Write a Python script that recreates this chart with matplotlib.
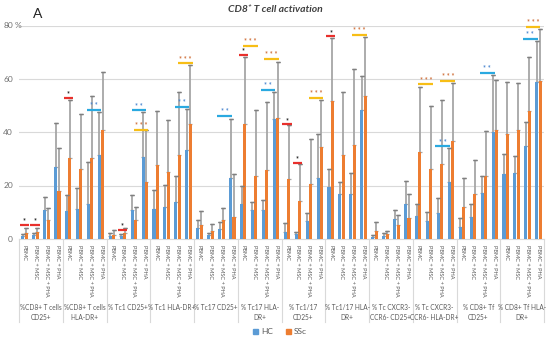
import matplotlib
matplotlib.use("Agg")
import matplotlib.pyplot as plt
import numpy as np
from matplotlib.patches import Patch

plt.rcParams['font.family'] = ['Lato', 'DejaVu Sans']

conditions = ["PBMC", "PBMC + MSC", "PBMC + MSC + PHA", "PBMC + PHA"]
groups = ["%CD8+ T cells\nCD25+", "%CD8+ T cells\nHLA-DR+", "% Tc1 CD25+", "% Tc1 HLA-DR+",
          "% Tc17 CD25+", "% Tc17 HLA-\nDR+", "% Tc1/17\nCD25+", "% Tc1/17 HLA-\nDR+",
          "% Tc CXCR3-\nCCR6- CD25+", "% Tc CXCR3-\nCCR6- HLA-DR+", "% CD8+ Tf\nCD25+",
          "% CD8+ Tf HLA-\nDR+"]

hc = [1.0, 1.4, 10.7, 27.0, 10.6, 11.3, 13.3, 31.4, 1.0, 1.1, 10.8, 30.8,
      11.2, 12.0, 14.0, 33.3, 4.2, 1.5, 3.7, 22.7, 13.1, 10.8, 10.8, 44.9,
      2.7, 1.7, 6.7, 23.0, 19.6, 16.8, 16.8, 48.2, 0.9, 1.2, 7.6, 13.1,
      8.6, 6.7, 9.8, 21.4, 4.5, 8.1, 17.1, 40.1, 24.2, 24.8, 34.9, 59.0]
hc_top = [2.0, 2.4, 15.6, 43.5, 16.4, 19.2, 29.0, 47.6, 2.2, 2.0, 16.4, 47.6,
          18.3, 20.2, 23.7, 48.9, 7.1, 2.4, 6.2, 45.1, 19.8, 14.0, 14.8, 55.3,
          5.9, 2.5, 9.7, 39.5, 26.4, 21.4, 24.8, 61.3, 1.5, 2.1, 10.7, 21.7,
          13.3, 10.2, 15.5, 34.1, 7.9, 13.1, 23.6, 61.6, 31.8, 31.0, 43.9, 74.4]
ssc = [2.3, 2.7, 7.1, 18.0, 30.5, 26.2, 30.5, 40.8, 1.6, 2.3, 7.1, 21.4,
       27.7, 25.2, 31.4, 43.0, 5.1, 3.0, 7.1, 8.1, 43.0, 23.7, 25.8, 45.5,
       22.4, 14.2, 20.6, 34.5, 51.6, 31.4, 35.4, 53.6, 3.1, 1.9, 5.2, 7.7,
       32.6, 26.4, 28.0, 36.6, 11.9, 16.8, 23.6, 40.7, 39.5, 40.7, 47.9, 59.4]
ssc_top = [4.0, 4.0, 11.6, 34.0, 52.0, 47.0, 53.8, 62.5, 3.2, 4.0, 12.0, 40.7,
           47.9, 44.7, 55.0, 65.3, 10.5, 5.6, 11.8, 24.3, 68.4, 48.2, 51.3, 66.5,
           42.6, 28.3, 37.6, 52.3, 75.5, 55.3, 63.8, 75.9, 6.5, 3.0, 9.1, 16.7,
           57.0, 49.7, 52.2, 58.6, 22.7, 29.5, 40.4, 59.8, 59.0, 58.6, 68.2, 78.8]

# significance markers: position (category units), height, kind
sig_x = [0.0, 0.96, 4.0, 6.35, 8.96, 10.47, 10.65, 14.4, 14.7, 18.3, 20.0, 20.66,
         22.26, 22.6, 24.0, 24.95, 26.65, 28.0, 30.6, 36.7, 38.25, 38.7, 42.3, 46.25, 46.5]
sig_y = [5.2, 5.2, 52.8, 48.5, 3.5, 48.2, 41.0, 49.5, 65.9, 46.1, 69.0, 72.5,
         56.0, 67.5, 43.0, 28.5, 53.0, 76.0, 76.6, 58.0, 34.8, 59.4, 62.3, 75.0, 79.6]
sig_kind = ["r", "r", "r", "b", "r", "b", "g", "b", "g", "b", "r", "g",
            "b", "g", "r", "r", "g", "r", "g", "g", "b", "g", "b", "b", "g"]

yticks = [0, 20, 40, 60, 80]
ytick_labels = ["0", "20", "40", "60", "80"]

BLUE = "#5B9BD5"
ORANGE = "#ED7D31"
sig_style = {"r": ("#E8302C", "*", "#222222", 0.85),
             "b": ("#2AA9E0", "* *", "#4A86D0", 1.35),
             "g": ("#F7BE16", "* * *", "#D0703A", 1.35)}

fig = plt.figure(figsize=(5.5, 3.41), dpi=100)
ax = fig.add_axes([19/550, 1-239/341, 525/550, (239-25.7)/341])

n = len(hc)
x = np.arange(n)
w = 0.28
off = 0.155
hc_a = np.array(hc); ssc_a = np.array(ssc)
hc_err = np.array(hc_top) - hc_a
ssc_err = np.array(ssc_top) - ssc_a

for vals, err, dx, col in [(hc_a, hc_err, -off, BLUE), (ssc_a, ssc_err, off, ORANGE)]:
    ax.bar(x + dx, vals, width=w, color=col, zorder=3)
    ax.errorbar(x + dx, vals, yerr=[np.zeros(n), err], fmt="none", ecolor="#A6A6A6",
                elinewidth=1.3, capsize=1.6, capthick=0.9, zorder=2, clip_on=False)
    ax.errorbar(x + dx, vals + err, yerr=0, fmt="none", ecolor="#7F7F7F",
                capsize=1.6, capthick=0.9, elinewidth=0, zorder=4, clip_on=False)

for sx, sy, k in zip(sig_x, sig_y, sig_kind):
    lc, txt, tc, L = sig_style[k]
    ax.plot([sx - L/2, sx + L/2], [sy, sy], color=lc, lw=1.6, zorder=5,
            solid_capstyle="butt", clip_on=False)
    ax.annotate(txt, (sx, sy), xytext=(0, 0.5), textcoords="offset points",
                ha="center", va="bottom", fontsize=5, color=tc, fontweight="bold",
                zorder=6, annotation_clip=False)

ax.set_xlim(-0.5, n - 0.5)
ax.set_ylim(0, 80)
ax.set_yticks(yticks)
ax.set_yticklabels([])
ax.yaxis.grid(True, color="#D9D9D9", lw=0.8, zorder=0)
ax.set_axisbelow(True)
for s in ["left", "right", "top"]:
    ax.spines[s].set_visible(False)
ax.spines["bottom"].set_color("#D9D9D9")
ax.tick_params(axis="y", length=0)

# y labels: numbers right-aligned at ~13 px, "%" sticks out on the top label
ytrans = matplotlib.transforms.blended_transform_factory(fig.transFigure, ax.transData)
for v, lab in zip(yticks, ytick_labels):
    ax.text(13/550, v, lab, transform=ytrans, ha="right", va="center", fontsize=6,
            color="#707070", clip_on=False)
ax.text(14.5/550, yticks[-1], "%", transform=ytrans, ha="left", va="center", fontsize=6,
        color="#707070", clip_on=False)

ax.set_xticks(x)
ax.set_xticklabels(conditions * len(groups), rotation=-90, fontsize=4.1, color="#595959")
ax.tick_params(axis="x", length=0, pad=4)

trans = ax.get_xaxis_transform()
for k in range(len(groups) + 1):
    ax.plot([-0.5 + 4*k]*2, [0, -0.39], color="#D9D9D9", lw=0.8, transform=trans, clip_on=False)
for k, g in enumerate(groups):
    ax.text(1.5 + 4*k, -0.305, g, transform=trans, ha="center", va="top", fontsize=4.7,
            color="#595959", linespacing=1.5)

fig.text(275/550, 1-9/341, "CD8⁺ T cell activation", ha="center", va="center",
         fontsize=7.5, fontweight="bold", fontstyle="italic", color="#404040",
         family=["Lato", "DejaVu Sans"])
fig.text(38/550, 1-14/341, "A", ha="center", va="center", fontsize=10, color="#222222")

handles = [Patch(color=BLUE, label="HC"), Patch(color=ORANGE, label="SSc")]
fig.legend(handles=handles, loc="center", bbox_to_anchor=(280/550, 1-332/341), ncol=2,
           frameon=False, fontsize=6, handlelength=0.6, handleheight=0.6,
           columnspacing=1.5, handletextpad=0.4, labelcolor="#595959")

fig.savefig("out.png", dpi=100)
